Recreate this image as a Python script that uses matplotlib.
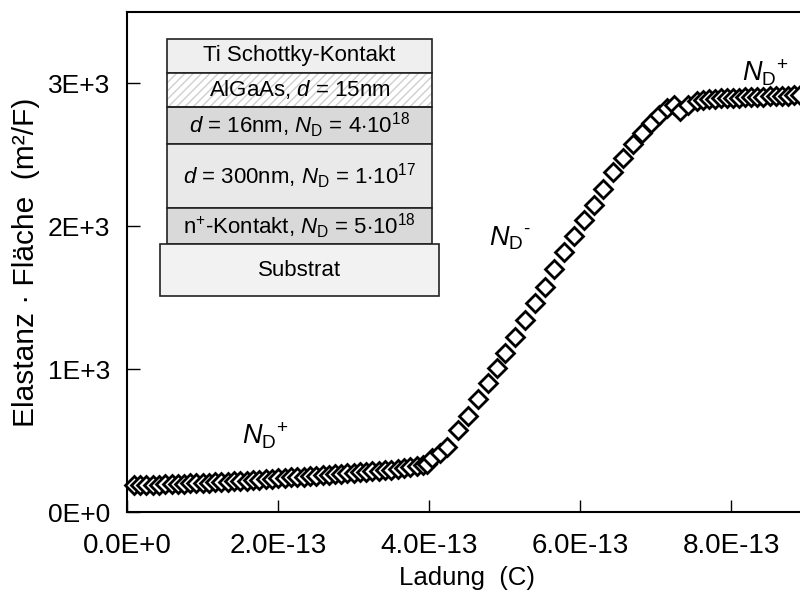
import numpy as np
import matplotlib
matplotlib.use("Agg")
import matplotlib.pyplot as plt
from matplotlib.patches import Rectangle
from matplotlib.ticker import FuncFormatter

plt.rcParams['font.family'] = ['Liberation Sans', 'DejaVu Sans']
plt.rcParams['mathtext.fontset'] = 'custom'
plt.rcParams['mathtext.rm'] = 'Liberation Sans'
plt.rcParams['mathtext.it'] = 'Liberation Sans:italic'
plt.rcParams['mathtext.bf'] = 'Liberation Sans:bold'

# charge in units of 1e-13 C, elastance*area in m^2/F
q_flat = [0.09, 0.17, 0.25, 0.34, 0.42, 0.50, 0.59, 0.67, 0.75, 0.84, 0.92, 1.00,
          1.09, 1.17, 1.25, 1.34, 1.42, 1.50, 1.59, 1.67, 1.75, 1.84, 1.92, 2.00,
          2.09, 2.17, 2.25, 2.34, 2.42, 2.50, 2.59, 2.67, 2.75, 2.84, 2.92, 3.00,
          3.09, 3.17, 3.25, 3.34, 3.42, 3.50, 3.59, 3.67, 3.75, 3.84, 3.92, 3.98]
s_flat = [186, 188, 189, 190, 192, 193, 195, 197, 198, 200, 202, 204,
          206, 208, 210, 212, 214, 217, 220, 223, 226, 229, 232, 236,
          239, 242, 245, 248, 251, 255, 258, 261, 264, 267, 270, 274,
          277, 281, 284, 288, 292, 297, 302, 307, 313, 320, 328, 338]

q_rise = [4.04, 4.14, 4.24, 4.38, 4.52, 4.65, 4.78, 4.90, 5.01, 5.14, 5.27, 5.40,
          5.53, 5.66, 5.79, 5.92, 6.05, 6.18, 6.31, 6.44, 6.57, 6.70, 6.82, 6.94,
          7.05, 7.15, 7.24, 7.32, 7.43, 7.55]
s_rise = [378, 415, 458, 575, 670, 790, 905, 1005, 1115, 1225, 1345, 1460,
          1575, 1700, 1820, 1935, 2045, 2150, 2260, 2380, 2480, 2575, 2650, 2720,
          2780, 2825, 2850, 2805, 2848, 2880]

q_top = [7.63, 7.71, 7.79, 7.87, 7.95, 8.03, 8.11, 8.19, 8.27, 8.35, 8.43, 8.51,
         8.59, 8.67, 8.75, 8.83, 8.91]
s_top = [2885, 2890, 2893, 2895, 2897, 2899, 2901, 2903, 2905, 2907, 2908, 2910,
         2911, 2913, 2914, 2916, 2917]

x_ticks = [0, 2e-13, 4e-13, 6e-13, 8e-13]
y_ticks = [0, 1000, 2000, 3000]

layer_labels = ['Ti Schottky-Kontakt',
                r'AlGaAs, $d$ = 15nm',
                r'$d$ = 16nm, $N_{\mathrm{D}}$ = 4$\cdot$10$^{18}$',
                r'$d$ = 300nm, $N_{\mathrm{D}}$ = 1$\cdot$10$^{17}$',
                r'n$^{+}$-Kontakt, $N_{\mathrm{D}}$ = 5$\cdot$10$^{18}$']
layer_colors = ['#efefef', 'white', '#d9d9d9', '#e9e9e9', '#d9d9d9']
# layer boundaries in axes fraction (top to bottom)
layer_edges = [0.946, 0.878, 0.810, 0.736, 0.608, 0.536]


def sci(v, pos, nd):
    if v == 0:
        m, e = 0.0, 0
    else:
        e = int(np.floor(np.log10(abs(v)) + 1e-9))
        m = v / 10.0**e
    return f"{m:.{nd}f}E{e:+d}"


fig = plt.figure(figsize=(8, 5.94), dpi=100)
ax = fig.add_axes([127/800, 82/594, 679.5/800, 500/594])

q = np.array(q_flat + q_rise + q_top) * 1e-13
s = np.array(s_flat + s_rise + s_top)
ax.plot(q, s, ls='none', marker='D', ms=9.4, mfc='white', mec='black', mew=2.0,
        clip_on=False, zorder=3)

ax.set_xlim(0, 9e-13)
ax.set_ylim(0, 3500)
ax.set_xticks(x_ticks)
ax.set_yticks(y_ticks)
ax.xaxis.set_major_formatter(FuncFormatter(lambda v, p: sci(v, p, 1)))
ax.yaxis.set_major_formatter(FuncFormatter(lambda v, p: sci(v, p, 0)))
ax.tick_params(direction='in', length=9, width=1, labelsize=19)
ax.tick_params(axis='x', pad=15, labelsize=20)
ax.tick_params(axis='y', pad=12)
for sp in ax.spines.values():
    sp.set_linewidth(1.5)

ax.set_xlabel('Ladung  (C)', fontsize=18.5, labelpad=5)
ax.set_ylabel('Elastanz · Fläche  (m²/F)', fontsize=21.5, labelpad=6)

ax.text(1.83e-13, 530, r'$N_{\mathrm{D}}{}^{+}$', fontsize=19.5, ha='center', va='center')
ax.text(5.07e-13, 1915, r'$N_{\mathrm{D}}{}^{\text{-}}$', fontsize=19.5, ha='center', va='center')
ax.text(8.45e-13, 3077, r'$N_{\mathrm{D}}{}^{+}$', fontsize=19.5, ha='center', va='center')

# layer stack sketch
x0, x1 = 0.0589, 0.4489
for i, (lab, col) in enumerate(zip(layer_labels, layer_colors)):
    top, bot = layer_edges[i], layer_edges[i + 1]
    if i == 1:
        ax.add_patch(Rectangle((x0, bot), x1 - x0, top - bot, transform=ax.transAxes,
                               facecolor='white', edgecolor='#cfcfcf', hatch='////',
                               lw=0, zorder=4))
        ax.add_patch(Rectangle((x0, bot), x1 - x0, top - bot, transform=ax.transAxes,
                               facecolor='none', edgecolor='#222222', lw=1.2, zorder=5))
    else:
        ax.add_patch(Rectangle((x0, bot), x1 - x0, top - bot, transform=ax.transAxes,
                               facecolor=col, edgecolor='#222222', lw=1.2, zorder=4))
    ax.text((x0 + x1) / 2, (top + bot) / 2, lab, transform=ax.transAxes,
            ha='center', va='center', fontsize=16, zorder=6)

sx0, sx1 = 0.0486, 0.4592
ax.add_patch(Rectangle((sx0, 0.432), sx1 - sx0, 0.536 - 0.432, transform=ax.transAxes,
                       facecolor='#f2f2f2', edgecolor='#222222', lw=1.2, zorder=4))
ax.text((sx0 + sx1) / 2, (0.432 + 0.536) / 2, 'Substrat', transform=ax.transAxes,
        ha='center', va='center', fontsize=16, zorder=6)

fig.savefig('out.png', dpi=100)
